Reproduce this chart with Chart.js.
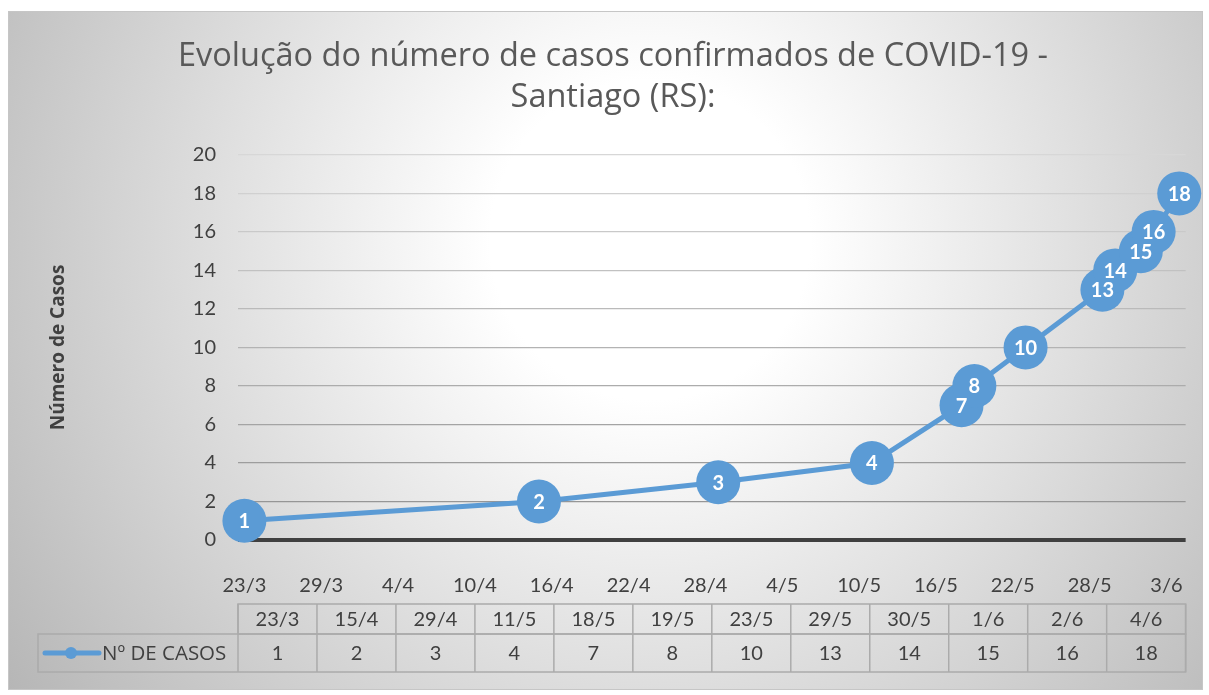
<!DOCTYPE html>
<html>
<head>
<meta charset="utf-8">
<script src="https://cdn.jsdelivr.net/npm/chart.js@4.4.1/dist/chart.umd.min.js"></script>
<style>
  body { margin: 0; background: #fff; }
  canvas { display: block; }
</style>
</head>
<body>
<canvas id="mycanvas" width="1209" height="695"></canvas>
<script>
// data
var dates = ['23/3', '15/4', '29/4', '11/5', '18/5', '19/5', '23/5', '29/5', '30/5', '1/6', '2/6', '4/6'];
var cases = [1, 2, 3, 4, 7, 8, 10, 13, 14, 15, 16, 18];
var tickLabels = ['23/3', '29/3', '4/4', '10/4', '16/4', '22/4', '28/4', '4/5', '10/5', '16/5', '22/5', '28/5', '3/6'];
var seriesName = 'Nº DE CASOS';
var titleLines = ['Evolução do número de casos confirmados de COVID-19 -', 'Santiago (RS):'];
var yTitle = 'Número de Casos';

var FONT = 'Lato';
var BLUE = '#5B9BD5';

// day number counted from the first date (2020, leap year)
var monthStart = [0, 31, 60, 91, 121, 152, 182];
function dayOf(s) {
  var p = s.split('/');
  return parseInt(p[0], 10) + monthStart[parseInt(p[1], 10) - 1];
}
var day0 = dayOf(dates[0]);
function dayIndex(s) { return dayOf(s) - day0; }

var points = [];
for (var i = 0; i < dates.length; i++) {
  points.push({ x: dayIndex(dates[i]), y: cases[i] });
}
var tickDays = tickLabels.map(dayIndex);

var bgPlugin = {
  id: 'bg',
  beforeDraw: function(chart) {
    var c = chart.ctx;
    c.save();
    c.fillStyle = '#fff';
    c.fillRect(0, 0, chart.width, chart.height);
    var g = c.createRadialGradient(650, 240, 0, 650, 240, 800);
    g.addColorStop(0, '#ffffff');
    g.addColorStop(0.2, '#ffffff');
    g.addColorStop(1, '#b4b4b4');
    c.fillStyle = g;
    c.fillRect(8, 11, 1195, 679);
    c.strokeStyle = '#c6c6c6';
    c.lineWidth = 1;
    c.strokeRect(8.5, 11.5, 1194, 678);
    c.restore();
  }
};

var labelPlugin = {
  id: 'pointLabels',
  afterDatasetsDraw: function(chart) {
    var c = chart.ctx;
    var meta = chart.getDatasetMeta(0);
    c.save();
    c.fillStyle = '#fff';
    c.font = 'bold 20px ' + FONT;
    c.textAlign = 'center';
    c.textBaseline = 'middle';
    meta.data.forEach(function(pt, i) {
      c.fillText(String(cases[i]), pt.x, pt.y + 1);
    });
    c.restore();
  }
};

var tablePlugin = {
  id: 'dataTable',
  afterDraw: function(chart) {
    var c = chart.ctx;
    var a = chart.chartArea;
    var n = dates.length;
    var colW = (a.right - a.left) / n;
    var top = 604, mid = 634, bot = 672, legL = 38;
    c.save();
    c.strokeStyle = '#ababab';
    c.lineWidth = 1.5;
    // header row
    c.strokeRect(a.left, top, a.right - a.left, mid - top);
    // value row incl. legend cell
    c.strokeRect(legL, mid, a.right - legL, bot - mid);
    for (var i = 0; i <= n; i++) {
      var x = a.left + i * colW;
      c.beginPath();
      c.moveTo(x, top);
      c.lineTo(x, bot);
      c.stroke();
    }
    c.fillStyle = '#404040';
    c.font = '20px ' + FONT;
    c.textAlign = 'center';
    c.textBaseline = 'middle';
    for (var j = 0; j < n; j++) {
      var cx = a.left + (j + 0.5) * colW;
      c.fillText(dates[j], cx, (top + mid) / 2 + 1);
      c.fillText(String(cases[j]), cx, (mid + bot) / 2 + 1);
    }
    // legend key
    var ly = (mid + bot) / 2;
    c.strokeStyle = BLUE;
    c.lineWidth = 5;
    c.lineCap = 'round';
    c.beginPath();
    c.moveTo(45, ly);
    c.lineTo(99, ly);
    c.stroke();
    c.fillStyle = BLUE;
    c.beginPath();
    c.arc(71, ly, 6, 0, Math.PI * 2);
    c.fill();
    c.fillStyle = '#404040';
    c.textAlign = 'left';
    c.font = '20.5px "Open Sans"';
    c.fillText(seriesName, 102, ly + 1);
    c.restore();
  }
};

function gridColor(ctx) {
  var v = ctx.tick ? ctx.tick.value : 0;
  if (v === 0) return '#404040';
  var g = Math.round(150 + (v - 2) * 65 / 18);
  return 'rgb(' + g + ',' + g + ',' + g + ')';
}

var chartdata = {
  datasets: [{
    label: seriesName,
    data: points,
    borderColor: BLUE,
    backgroundColor: BLUE,
    borderWidth: 5,
    pointRadius: 22,
    pointHoverRadius: 22,
    pointBackgroundColor: BLUE,
    pointBorderWidth: 0,
    tension: 0,
    clip: false
  }]
};

var ctx = document.getElementById('mycanvas');
var LineGraph = new Chart(ctx, {
  type: 'line',
  data: chartdata,
  plugins: [bgPlugin, labelPlugin, tablePlugin],
  options: {
    responsive: false,
    animation: false,
    events: [],
    layout: { padding: { left: 38, right: 21, top: 0, bottom: 0 } },
    plugins: {
      legend: { display: false },
      tooltip: { enabled: false },
      title: {
        display: true,
        text: titleLines,
        color: '#595959',
        font: { family: 'Open Sans', size: 32.5, weight: 'normal', lineHeight: 1.26 },
        padding: { top: 36, bottom: 37 }
      }
    },
    scales: {
      x: {
        type: 'linear',
        min: -0.5,
        max: dayIndex(dates[dates.length - 1]) + 0.5,
        afterBuildTicks: function(s) {
          s.ticks = tickDays.map(function(d) { return { value: d }; });
        },
        afterFit: function(s) { s.height = 155; },
        grid: { display: false },
        border: { display: false },
        ticks: {
          autoSkip: false,
          maxRotation: 0,
          padding: 26,
          color: '#404040',
          font: { family: FONT, size: 20 },
          callback: function(v) {
            var k = tickDays.indexOf(v);
            return k >= 0 ? tickLabels[k] : '';
          }
        }
      },
      y: {
        min: 0,
        max: 20,
        afterFit: function(s) { s.width = 200; },
        border: { display: false },
        grid: {
          drawTicks: false,
          color: gridColor,
          lineWidth: function(c) { return c.tick && c.tick.value === 0 ? 4 : 1.2; }
        },
        ticks: {
          stepSize: 2,
          padding: 22,
          color: '#404040',
          font: { family: FONT, size: 20 }
        },
        title: {
          display: true,
          text: yTitle,
          color: '#404040',
          font: { family: 'Open Sans', size: 19, weight: 'bold' },
          padding: { top: 9, bottom: 0 }
        }
      }
    }
  }
});
</script>
</body>
</html>
